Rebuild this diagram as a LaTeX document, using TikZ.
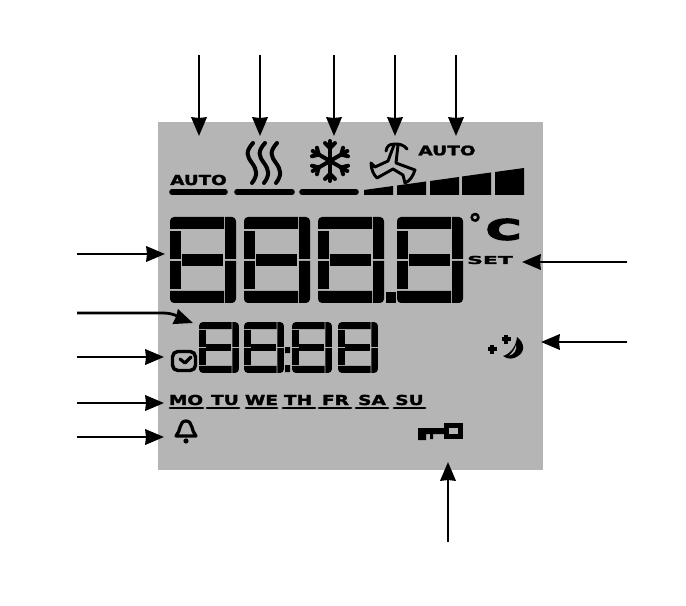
\documentclass[tikz,border=0pt]{standalone}
\usepackage{fontspec}
\setmainfont{DejaVu Sans}[BoldFeatures={FakeBold=1.6}]
\newfontfamily\lcdheavy{DejaVu Sans}[BoldFeatures={FakeBold=5}]
\usetikzlibrary{arrows.meta}
\tikzset{
	lcdtext/.style={font=\bfseries\fontsize{#1}{#1}\selectfont,inner sep=0pt,transform shape},
	lcdrule/.style={line width=4.2pt,line cap=round},
	dayrule/.style={line width=2.2pt,line cap=round},
	callout/.style={->,line width=2.1pt},
	icon/.style={line width=2.4pt,line cap=round,line join=round}
}
\newcommand{\lcddigit}[4]{%
	\begin{scope}[shift={(#1,#2)},xscale=#3,yscale=#4]
		\fill (0,12) [rounded corners=3pt] -- (0,0) [sharp corners] -- (54,0) -- (54,12) -- cycle;
		\fill (55,12) -- (55,0) [rounded corners=3pt] -- (66,0) [sharp corners] -- (66,42) -- (55,42) -- cycle;
		\fill (55,44) -- (66,44) [rounded corners=3pt] -- (66,86) [sharp corners] -- (55,86) -- cycle;
		\fill (0,14) -- (11,14) -- (11,42) -- (0,42) -- cycle;
		\fill (0,44) -- (11,44) -- (11,72) -- (0,72) -- cycle;
		\fill (12,37) -- (53,37) -- (53,49) -- (12,49) -- cycle;
		\fill (54,74) -- (0,74) [rounded corners=3pt] -- (0,86) [sharp corners] -- (54,86) -- cycle;
	\end{scope}}
\begin{document}
\begin{tikzpicture}[x=.75pt,y=-.75pt,>={Stealth[length=14pt,width=11.5pt,inset=.5pt]}]
	\useasboundingbox (0,0) rectangle (686,606);
	\fill[white] (0,0) rectangle (686,606);
	\fill[black!29] (158,122) rectangle (543,470);
	\foreach \dx in {170,244,318,397} {\lcddigit{\dx}{217}{1}{1}}
	\foreach \dx in {199,244,292,338} {\lcddigit{\dx}{322}{.606}{.593}}
	\fill (386,292) rectangle (396,303);
	\fill (285,347) rectangle (290,353) (285,365) rectangle (290,372);
	\node[lcdtext=10.3,xscale=1.33] (autoa) at (198.5,180) {AUTO};
	\node[lcdtext=9.8,xscale=1.42] (autob) at (447,150.5) {AUTO};
	\node[lcdtext=8.2,xscale=2] (setlabel) at (490,260) {SET};
	\node[lcdtext=20] (degree) at (475,223) {°};
	\node[lcdtext=21,xscale=1.7] (celsius) at (503.5,229.5) {\lcdheavy\bfseries C};
	\draw[lcdrule] (172,192) -- (225,192) (237,192) -- (292,192) (302,192) -- (356,192);
	\foreach \hx in {0,12,24}
		\draw[icon,line width=3pt] (253+\hx,143) .. controls (245+\hx,152) and (247+\hx,156) .. (252+\hx,163) .. controls (257+\hx,170) and (258+\hx,175) .. (252+\hx,183);
	\foreach \ang in {30,90,...,330} {
		\draw[icon,line width=3pt] (330,161) -- ++(\ang:20);
		\draw[icon,line width=3pt] (330,161) ++(\ang:13) -- ++(\ang+45:7);
		\draw[icon,line width=3pt] (330,161) ++(\ang:13) -- ++(\ang-45:7);
	}
	\draw[icon,line width=2.2pt] (386,151) .. controls (387,146) and (389,144) .. (395,144) .. controls (400,144) and (404,145) .. (407,149);
	\draw[icon,line width=2.2pt] (394,145) -- (388,161) -- (375,167) -- (371,163) .. controls (371,170) and (374,175) .. (377,178) -- (393,169) -- (403,175) -- (405,183) .. controls (410,181) and (413,176) .. (415,170) -- (396,163) -- (398,145);
	\foreach \bx/\by in {364/190,397/185.5,430/181,462/176.5,495/172} {
		\fill (\bx,\by) -- (\bx+29,\by-4) -- (\bx+29,195) -- (\bx,195) -- cycle;
	}
	\node[lcdtext=10.3,xscale=1.35] (mon) at (186,400) {MO};
	\node[lcdtext=10.3,xscale=1.35] (tue) at (225,400) {TU};
	\node[lcdtext=10.3,xscale=1.35] (wed) at (261.5,400) {WE};
	\node[lcdtext=10.3,xscale=1.35] (thu) at (298,400) {TH};
	\node[lcdtext=10.3,xscale=1.35] (fri) at (335.5,400) {FR};
	\node[lcdtext=10.3,xscale=1.35] (sat) at (372,400) {SA};
	\node[lcdtext=10.3,xscale=1.35] (sun) at (409.5,400) {SU};
	\foreach \ua/\ub in {170/203,207/239,246/277,283/315,319/351,356/388,394/425}
		\draw[dayrule] (\ua,408) -- (\ub,408);
	\draw[icon,rounded corners=4pt,line width=2.6pt] (172.5,351.5) rectangle (195.5,370.5);
	\draw[icon] (180,359) -- (185,363) -- (191,357);
	\draw[icon] (176,436) .. controls (181,431) and (179,421) .. (186,421) .. controls (193,421) and (191,431) .. (196,436) -- cycle;
	\fill (186,441) circle (2.6);
	\draw[line width=3.4pt] (446.5,425.5) rectangle (460.5,436.5);
	\fill (418,428) -- (444,428) -- (444,434) -- (433,434) -- (433,439) -- (430,439) -- (430,434) -- (426,434) -- (426,440) -- (418,440) -- cycle;
	\draw[icon,line cap=butt] (506,334.5) -- (506,343.5) (501.5,339) -- (510.5,339) (492,344.5) -- (492,353.5) (487.5,349) -- (496.5,349);
	\fill (517,337) .. controls (525,343) and (525,352) .. (518,356) .. controls (514,359) and (508,360) .. (503,356) .. controls (510,354) and (516,347) .. (517,337) -- cycle;
	\fill[black!29] (516,345) .. controls (515,349) and (512,353) .. (509,355.5) .. controls (514,355) and (517,350) .. (516,345) -- cycle;
	\foreach \ax[count=\i] in {199,260,334,395,456} {
		\coordinate (topstart\i) at (\ax,55);
		\coordinate (toptip\i) at (\ax,136);
		\draw[callout] (topstart\i) -- (toptip\i);
	}
	\foreach \ay/\ax[count=\i] in {254/165,357/164,403/164,437/164} {
		\coordinate (leftstart\i) at (77,\ay);
		\coordinate (lefttip\i) at (\ax,\ay);
		\draw[callout] (leftstart\i) -- (lefttip\i);
	}
	\coordinate (curvestart) at (77,313);
	\coordinate (curvebend) at (163,313);
	\coordinate (curvetip) at (193,323);
	\draw[callout] (curvestart) -- (curvebend) to[out=0,in=160] (curvetip);
	\coordinate (setstart) at (627,262);
	\coordinate (settip) at (522,262);
	\draw[callout] (setstart) -- (settip);
	\coordinate (moonstart) at (627,342);
	\coordinate (moontip) at (541,342);
	\draw[callout] (moonstart) -- (moontip);
	\coordinate (keystart) at (448,542);
	\coordinate (keytip) at (448,462);
	\draw[callout] (keystart) -- (keytip);
\end{tikzpicture}
\end{document}
